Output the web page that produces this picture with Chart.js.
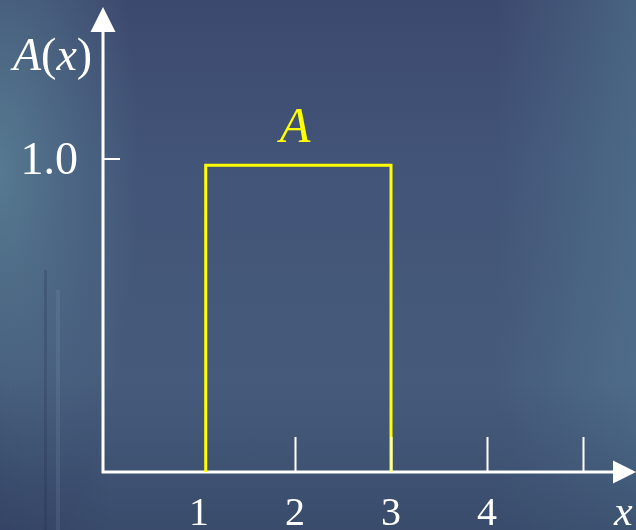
<!DOCTYPE html>
<html>
<head>
<meta charset="utf-8">
<script src="https://cdn.jsdelivr.net/npm/chart.js@4.4.1/dist/chart.umd.min.js"></script>
<style>
  html, body { margin: 0; padding: 0; }
  body {
    width: 636px; height: 530px; overflow: hidden;
    background:
      linear-gradient(to bottom, rgba(0,0,0,0) 0px, rgba(0,0,0,0) 270px, rgba(30,40,70,0.22) 270px) 44px 0 / 3px 100% no-repeat,
      linear-gradient(to bottom, rgba(0,0,0,0) 0px, rgba(0,0,0,0) 290px, rgba(150,170,195,0.14) 290px) 56px 0 / 4px 100% no-repeat,
      linear-gradient(to bottom, rgba(40,50,85,0) 0px, rgba(40,50,85,0) 380px, rgba(40,50,85,0.45) 530px),
      radial-gradient(ellipse 140px 380px at 0px 170px, rgba(92,130,152,0.85), rgba(92,130,152,0)),
      linear-gradient(to right, rgba(40,50,85,0.35) 0px, rgba(40,50,85,0) 110px),
      linear-gradient(to left, rgba(85,125,150,0.5) 0px, rgba(85,125,150,0) 140px),
      linear-gradient(to bottom, #3c496e 0%, #425478 30%, #45597a 60%, #48607e 100%);
  }
  canvas { display: block; }
</style>
</head>
<body>
<canvas id="chart-box" width="636" height="530"></canvas>
<script>
(function () {
  // box function A(x): outline of the rectangle
  var boxX = [1.07, 1.07, 3, 3];
  var boxY = [0, 0.98, 0.98, 0];

  var xTickMarks = [2, 3, 4, 5];
  var xTickValues = [1, 2, 3, 4];
  var xTickLabels = ["1", "2", "3", "4"];
  var yTickValues = [1.0];
  var yTickLabels = ["1.0"];

  var serif = "'Liberation Serif', 'Times New Roman', serif";

  var axesPlugin = {
    id: "axesPlugin",
    beforeDatasetsDraw: function (chart) {
      var ctx = chart.ctx;
      var xs = chart.scales.x, ys = chart.scales.y;
      var area = chart.chartArea;
      var ox = xs.getPixelForValue(0), oy = ys.getPixelForValue(0);
      ctx.save();
      ctx.strokeStyle = "#ffffff";
      ctx.fillStyle = "#ffffff";
      ctx.lineWidth = 3;
      ctx.beginPath();
      ctx.moveTo(ox, oy);
      ctx.lineTo(area.right - 20, oy);
      ctx.moveTo(ox, oy + 1.5);
      ctx.lineTo(ox, area.top + 20);
      ctx.stroke();
      // arrow heads
      ctx.beginPath();
      ctx.moveTo(area.right, oy);
      ctx.lineTo(area.right - 23, oy - 11.5);
      ctx.lineTo(area.right - 23, oy + 11.5);
      ctx.closePath();
      ctx.fill();
      ctx.beginPath();
      ctx.moveTo(ox, area.top);
      ctx.lineTo(ox - 12.5, area.top + 25);
      ctx.lineTo(ox + 12.5, area.top + 25);
      ctx.closePath();
      ctx.fill();
      ctx.restore();
    },
    afterDatasetsDraw: function (chart) {
      var ctx = chart.ctx;
      var xs = chart.scales.x, ys = chart.scales.y;
      var ox = xs.getPixelForValue(0), oy = ys.getPixelForValue(0);
      ctx.save();
      ctx.strokeStyle = "#ffffff";
      ctx.fillStyle = "#ffffff";
      ctx.lineWidth = 2;
      ctx.beginPath();
      xTickMarks.forEach(function (v) {
        var px = Math.round(xs.getPixelForValue(v)) + 0.5;
        ctx.moveTo(px, oy);
        ctx.lineTo(px, oy - 35);
      });
      yTickValues.forEach(function (v) {
        var py = Math.round(ys.getPixelForValue(v));
        ctx.moveTo(ox, py);
        ctx.lineTo(ox + 17, py);
      });
      ctx.stroke();

      ctx.textBaseline = "alphabetic";
      ctx.textAlign = "center";
      ctx.font = "40px " + serif;
      xTickValues.forEach(function (v, i) {
        ctx.fillText(xTickLabels[i], xs.getPixelForValue(v), oy + 53);
      });
      ctx.textAlign = "right";
      ctx.font = "46px " + serif;
      yTickValues.forEach(function (v, i) {
        ctx.fillText(yTickLabels[i], ox - 25, ys.getPixelForValue(v) + 15);
      });

      // axis titles
      ctx.textAlign = "left";
      ctx.font = "italic 42px " + serif;
      ctx.fillText("x", chart.chartArea.right - 22, oy + 53);

      var tx = 13, ty = 70;
      ctx.font = "italic 46px " + serif;
      ctx.fillText("A", tx, ty);
      tx += ctx.measureText("A").width;
      ctx.font = "46px " + serif;
      ctx.fillText("(", tx, ty);
      tx += ctx.measureText("(").width;
      ctx.font = "italic 46px " + serif;
      ctx.fillText("x", tx, ty);
      tx += ctx.measureText("x").width;
      ctx.font = "46px " + serif;
      ctx.fillText(")", tx, ty);

      // name of the box
      ctx.fillStyle = "#ffff00";
      ctx.textAlign = "center";
      ctx.font = "italic 50px " + serif;
      ctx.fillText("A", xs.getPixelForValue(2), ys.getPixelForValue(1.054));
      ctx.restore();
    }
  };

  function draw() {
    new Chart(document.getElementById("chart-box"), {
      type: "line",
      data: {
        datasets: [{
          data: boxX.map(function (x, i) { return { x: x, y: boxY[i] }; }),
          borderColor: "#ffff00",
          borderWidth: 3,
          pointRadius: 0,
          tension: 0,
          fill: false,
          borderJoinStyle: "miter",
        }],
      },
      options: {
        responsive: false,
        animation: false,
        layout: { padding: { top: 7, left: 0, right: 0, bottom: 0 } },
        plugins: { legend: { display: false }, tooltip: { enabled: false } },
        scales: {
          x: { type: "linear", min: -1.073, max: 5.552, display: false },
          y: { type: "linear", min: -0.1853, max: 1.4856, display: false },
        },
      },
      plugins: [axesPlugin],
    });
  }

  // italic serif face may load lazily; wait for it before painting the canvas
  Promise.all([
    document.fonts.load("46px 'Liberation Serif'"),
    document.fonts.load("italic 46px 'Liberation Serif'"),
  ]).then(draw, draw);
})();
</script>
</body>
</html>
